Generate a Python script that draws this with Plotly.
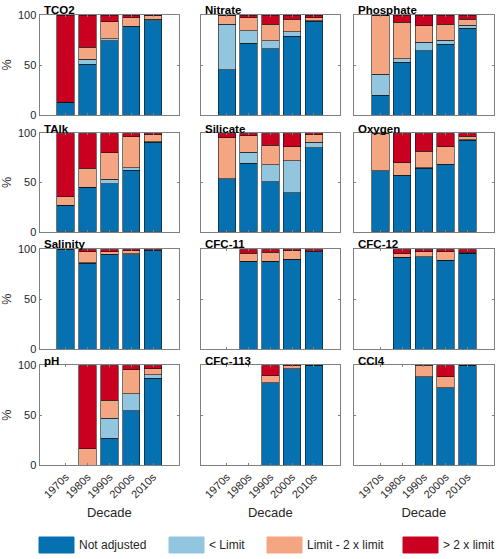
import plotly.graph_objects as go

decades = ["1970s", "1980s", "1990s", "2000s", "2010s"]
decade_pos = [1, 2, 3, 4, 5]
category_names = ["Not adjusted", "< Limit", "Limit - 2 x limit", "> 2 x limit"]
category_colors = ["#0571b0", "#92c5de", "#f4a582", "#ca0020"]
panel_names = ["TCO2", "Nitrate", "Phosphate", "TAlk", "Silicate", "Oxygen",
               "Salinity", "CFC-11", "CFC-12", "pH", "CFC-113", "CCl4"]

# values in % (Not adjusted, < Limit, Limit - 2 x limit, > 2 x limit)
tco2_not = [13, 51, 74.5, 88.5, 94.5]
tco2_lt = [0, 5, 2, 0.3, 1.5]
tco2_mid = [0, 12, 17, 8.5, 3.2]
tco2_gt = [87, 32, 6.5, 2.7, 0.8]

nitrate_not = [45.5, 72, 66.5, 79, 94]
nitrate_lt = [45.5, 12.5, 8, 4.3, 0.5]
nitrate_mid = [9, 13, 16.5, 12.4, 2.8]
nitrate_gt = [0, 2.5, 9, 4.3, 2.7]

phosphate_not = [20, 53, 64.3, 71, 87]
phosphate_lt = [21, 3.5, 8.4, 3.7, 3]
phosphate_mid = [59, 36.5, 16.6, 16, 5.7]
phosphate_gt = [0, 7, 10.7, 9.3, 4.3]

talk_not = [27, 45, 48.5, 62.4, 91]
talk_lt = [0, 0, 4.7, 2.7, 0.5]
talk_mid = [8.5, 19.4, 27.1, 31.5, 6.8]
talk_gt = [64.5, 35.6, 19.7, 3.4, 1.7]

silicate_not = [54, 69.7, 50.8, 39.7, 85.5]
silicate_lt = [0, 11.1, 17.2, 32.3, 5.4]
silicate_mid = [41.5, 16.5, 19.9, 14.5, 7.4]
silicate_gt = [4.5, 2.7, 12.1, 13.5, 1.7]

oxygen_not = [62, 57, 64.5, 68, 93]
oxygen_lt = [0, 0.3, 0.5, 0.5, 0.5]
oxygen_mid = [38, 12.7, 16.8, 18, 3.5]
oxygen_gt = [0, 30, 18.2, 13.5, 3]

salinity_not = [100, 86, 94.5, 94.6, 98.3]
salinity_lt = [0, 0.7, 0.5, 1, 0]
salinity_mid = [0, 10.6, 2.3, 3.1, 1]
salinity_gt = [0, 2.7, 2.7, 1.3, 0.7]

cfc11_not = [None, 88, 88, 90, 97.7]
cfc11_lt = [None, 0, 0, 0, 0]
cfc11_mid = [None, 8, 9, 8.7, 0.3]
cfc11_gt = [None, 4, 3, 1.3, 2]

cfc12_not = [None, 92, 92.3, 89, 96]
cfc12_lt = [None, 0, 0, 0, 0]
cfc12_mid = [None, 3.7, 5.4, 8.3, 1]
cfc12_gt = [None, 4.3, 2.3, 2.7, 3]

ph_not = [None, 0, 27, 54.3, 87]
ph_lt = [None, 0, 20, 17.4, 3.3]
ph_mid = [None, 16.3, 18, 23.6, 6]
ph_gt = [None, 83.7, 35, 4.7, 3.7]

cfc113_not = [None, None, 82.3, 96.3, 100]
cfc113_lt = [None, None, 0, 0, 0]
cfc113_mid = [None, None, 7, 3, 0]
cfc113_gt = [None, None, 10.7, 0.7, 0]

ccl4_not = [None, None, 88.7, 77.3, 100]
ccl4_lt = [None, None, 0, 0, 0]
ccl4_mid = [None, None, 11.3, 11.4, 0]
ccl4_gt = [None, None, 0, 11.3, 0]

panel_data = [
    (tco2_not, tco2_lt, tco2_mid, tco2_gt),
    (nitrate_not, nitrate_lt, nitrate_mid, nitrate_gt),
    (phosphate_not, phosphate_lt, phosphate_mid, phosphate_gt),
    (talk_not, talk_lt, talk_mid, talk_gt),
    (silicate_not, silicate_lt, silicate_mid, silicate_gt),
    (oxygen_not, oxygen_lt, oxygen_mid, oxygen_gt),
    (salinity_not, salinity_lt, salinity_mid, salinity_gt),
    (cfc11_not, cfc11_lt, cfc11_mid, cfc11_gt),
    (cfc12_not, cfc12_lt, cfc12_mid, cfc12_gt),
    (ph_not, ph_lt, ph_mid, ph_gt),
    (cfc113_not, cfc113_lt, cfc113_mid, cfc113_gt),
    (ccl4_not, ccl4_lt, ccl4_mid, ccl4_gt),
]

W, H = 500, 559
FONT = "Liberation Sans, Arial, sans-serif"
TXT = "#262626"
col_px = [(39.5, 179.3), (200.7, 340.0), (354.3, 493.5)]
row_px = [(15.0, 115.0), (133.3, 231.7), (249.3, 349.0), (365.3, 465.3)]

fig = go.Figure()
layout = dict(
    template="none",
    width=W, height=H, margin=dict(l=0, r=0, t=0, b=0, autoexpand=False),
    paper_bgcolor="white", plot_bgcolor="white",
    barmode="stack", showlegend=False,
    font=dict(family=FONT, size=11, color=TXT),
)
annotations = []
shapes = []

for i, (name, series) in enumerate(zip(panel_names, panel_data)):
    r, c = divmod(i, 3)
    ax = "" if i == 0 else str(i + 1)
    for vals, cname, col in zip(series, category_names, category_colors):
        fig.add_trace(go.Bar(
            x=decade_pos, y=vals, name=cname, width=0.8,
            marker=dict(color=col, line=dict(color="rgba(20,20,20,0.85)", width=0.7)),
            xaxis="x" + ax, yaxis="y" + ax, showlegend=False,
        ))
    x0, x1 = col_px[c]
    yt, yb = row_px[r]
    layout["xaxis" + ax] = dict(
        domain=[x0 / W, x1 / W], anchor="y" + ax, range=[-0.2, 6.2],
        automargin=False,
        tickvals=decade_pos, ticktext=decades, ticks="inside", ticklen=2,
        tickcolor="#808080", showline=True, mirror="allticks", linecolor="#808080",
        linewidth=1, showgrid=False, zeroline=False,
        showticklabels=(r == 3), tickangle=-45,
        tickfont=dict(size=11, color=TXT),
        title=dict(text="Decade" if r == 3 else "", font=dict(size=13, color=TXT), standoff=8),
    )
    layout["yaxis" + ax] = dict(
        domain=[1 - yb / H, 1 - yt / H], anchor="x" + ax, range=[0, 100],
        automargin=False,
        tickvals=[0, 50, 100], ticks="inside", ticklen=2, tickcolor="#808080",
        showline=True, mirror="allticks", linecolor="#808080", linewidth=1,
        showgrid=False, zeroline=False, showticklabels=(c == 0),
        tickfont=dict(size=11, color=TXT),
        title=dict(text="%" if c == 0 else "", font=dict(size=12.5, color=TXT), standoff=5),
    )
    annotations.append(dict(
        text="<b>" + name + "</b>", x=(x0 + 2) / W, y=1 - (yt - 4.8) / H,
        xref="paper", yref="paper", xanchor="left", yanchor="middle",
        showarrow=False, font=dict(size=11.5, color="black", family=FONT),
    ))

# legend (boxes + labels)
legend_box_x = [39, 169, 267, 403]
for bx, cname, col in zip(legend_box_x, category_names, category_colors):
    shapes.append(dict(
        type="rect", xref="paper", yref="paper",
        x0=bx / W, x1=(bx + 35) / W, y0=1 - 553 / H, y1=1 - 537 / H,
        fillcolor=col, line=dict(color=col, width=1),
    ))
    annotations.append(dict(
        text=cname, x=(bx + 38) / W, y=1 - 545 / H, xref="paper", yref="paper",
        xanchor="left", yanchor="middle", showarrow=False,
        font=dict(size=12, color=TXT, family=FONT),
    ))

layout["annotations"] = annotations
layout["shapes"] = shapes
fig.update_layout(**layout)
fig.write_html("out.html", config={"displayModeBar": False},
               post_script="document.body.style.margin='0';")
